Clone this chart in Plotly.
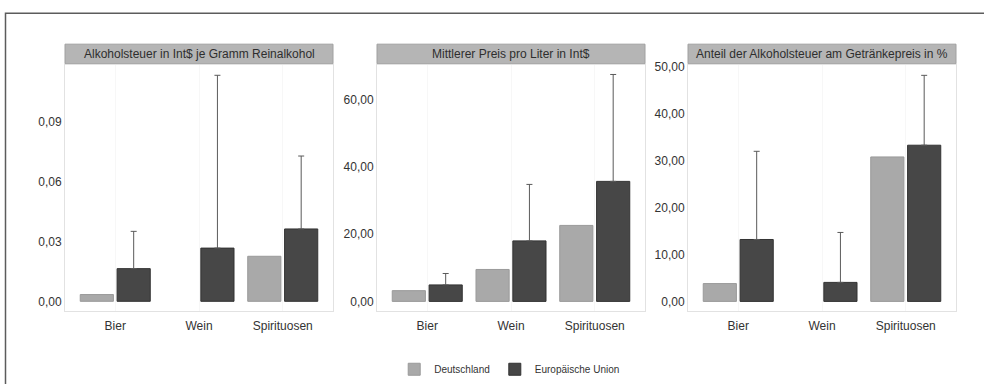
import plotly.graph_objects as go

# Beverage categories shown on every panel
categories = ["Bier", "Wein", "Spirituosen"]

# Alcohol tax in Int$ per gram of pure alcohol
tax_de = [0.0034, None, 0.0226]
tax_eu = [0.0164, 0.0267, 0.0363]
tax_eu_upper = [0.0351, 0.1134, 0.0729]

# Mean price per litre in Int$
price_de = [3.2, 9.5, 22.6]
price_eu = [4.9, 18.0, 35.7]
price_eu_upper = [8.3, 34.8, 67.5]

# Share of alcohol tax in beverage price, %
share_de = [3.8, None, 30.8]
share_eu = [13.2, 4.05, 33.3]
share_eu_upper = [32.0, 14.7, 48.2]

panel_titles = [
    "Alkoholsteuer in Int$ je Gramm Reinalkohol",
    "Mittlerer Preis pro Liter in Int$",
    "Anteil der Alkoholsteuer am Getränkepreis in %",
]

W, H = 984, 384
DE_COLOR = "#a9a9a9"
EU_COLOR = "#474747"
FONT = "Liberation Sans, Arial, sans-serif"

panels = [
    dict(de=tax_de, eu=tax_eu, up=tax_eu_upper, x=(65, 333), yr=[-0.0051, 0.1187], dtick=0.03),
    dict(de=price_de, eu=price_eu, up=price_eu_upper, x=(377, 645), yr=[-3.0, 70.4], dtick=20),
    dict(de=share_de, eu=share_eu, up=share_eu_upper, x=(688, 956), yr=[-2.15, 50.46], dtick=10),
]

plot_top, plot_bottom = 61, 313
strip_top, strip_bottom = 40, 60

fig = go.Figure()
shapes = []
annotations = []

for i, p in enumerate(panels, start=1):
    xa = "x" if i == 1 else f"x{i}"
    ya = "y" if i == 1 else f"y{i}"
    err = [u - v for u, v in zip(p["up"], p["eu"])]
    fig.add_trace(go.Bar(
        x=categories, y=p["de"], name="Deutschland",
        marker=dict(color=DE_COLOR, line=dict(color="#9a9a9a", width=1)),
        xaxis=xa, yaxis=ya, legendgroup="de", showlegend=(i == 1),
    ))
    fig.add_trace(go.Bar(
        x=categories, y=p["eu"], name="Europäische Union",
        marker=dict(color=EU_COLOR, line=dict(color="#333333", width=1)),
        error_y=dict(type="data", symmetric=False, array=err,
                     arrayminus=[0] * len(err), color="#5a5a5a",
                     thickness=1, width=3),
        xaxis=xa, yaxis=ya, legendgroup="eu", showlegend=(i == 1),
    ))

    x0, x1 = p["x"][0] / W, p["x"][1] / W
    y0, y1 = 1 - plot_bottom / H, 1 - plot_top / H
    fig.update_layout(**{
        ("xaxis" if i == 1 else f"xaxis{i}"): dict(
            domain=[x0, x1], anchor=ya, range=[-0.6, 2.6],
            showgrid=True, gridcolor="#f7f7f7", zeroline=False,
            showline=True, linecolor="#e2e2e2", linewidth=1, mirror=True,
            ticks="", ticklabelstandoff=3,
            tickfont=dict(family=FONT, size=12, color="#333333"),
        ),
        ("yaxis" if i == 1 else f"yaxis{i}"): dict(
            domain=[y0, y1], anchor=xa, range=p["yr"],
            tick0=0, dtick=p["dtick"], tickformat=".2f",
            showgrid=False, zeroline=False,
            showline=True, linecolor="#e2e2e2", linewidth=1, mirror=True,
            ticks="", tickfont=dict(family=FONT, size=12, color="#333333"),
        ),
    })

    # Title strip above each panel
    shapes.append(dict(
        type="rect", xref="paper", yref="paper",
        x0=x0, x1=x1, y0=1 - strip_bottom / H, y1=1 - strip_top / H,
        fillcolor="#b5b5b5", line=dict(color="#a0a0a0", width=1), layer="below",
    ))
    annotations.append(dict(
        text=panel_titles[i - 1], xref="paper", yref="paper",
        x=(x0 + x1) / 2, y=1 - (strip_top + strip_bottom) / 2 / H,
        xanchor="center", yanchor="middle", showarrow=False,
        font=dict(family=FONT, size=12, color="#2e2e2e"),
    ))

# Outer frame
shapes.append(dict(
    type="rect", xref="paper", yref="paper",
    x0=5.5 / W, x1=1.02, y0=-0.05, y1=1 - 8.5 / H,
    line=dict(color="#5c5c5c", width=1.5), fillcolor="rgba(0,0,0,0)", layer="below",
))

fig.update_layout(
    width=W, height=H,
    margin=dict(l=0, r=0, t=0, b=0),
    paper_bgcolor="white", plot_bgcolor="white",
    separators=",.",
    barmode="group", bargap=0.12, bargroupgap=0.1,
    shapes=shapes, annotations=annotations,
    legend=dict(
        orientation="h", x=0.518, y=1 - 372 / H,
        xanchor="center", yanchor="middle",
        font=dict(family=FONT, size=10, color="#333333"),
        itemwidth=30, bgcolor="rgba(0,0,0,0)",
    ),
    font=dict(family=FONT),
)

fig.write_html("out.html")
